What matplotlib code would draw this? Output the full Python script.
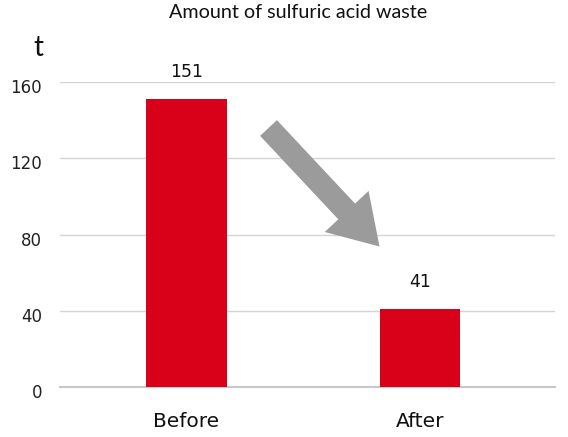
import matplotlib
matplotlib.use("Agg")
import matplotlib.pyplot as plt
from matplotlib.patches import FancyArrow
from matplotlib.transforms import ScaledTranslation

# data
categorias = ["Before", "After"]
valores = [151, 41]
ticks_y = [0, 40, 80, 120, 160]

TITULO = "Amount of sulfuric acid waste"
UNIDAD = "t"
ROJO = "#d9001a"
GRIS = "#9b9b9b"

plt.rcParams["font.family"] = ["DejaVu Sans"]

fig = plt.figure(figsize=(5.68, 4.37), dpi=100)
W, H = 568, 437
ax = fig.add_axes([60 / W, (H - 387) / H, 495 / W, 305 / H])

x = list(range(len(categorias)))
ax.bar(x, valores, width=0.345, color=ROJO, zorder=3)

for xi, v in zip(x, valores):
    ax.annotate(str(v), (xi, v), xytext=(0, 16), textcoords="offset points",
                ha="center", va="baseline", fontsize=12.5, color="#111111")

ax.set_xlim(-0.542, 1.578)
ax.set_ylim(0, 160)
ax.set_yticks(ticks_y)
ax.set_yticklabels([str(t) for t in ticks_y], fontsize=12, color="#222222")
ax.set_xticks(x)
ax.set_xticklabels(categorias, fontsize=14.5, color="#111111")
ax.tick_params(axis="both", length=0)
ax.tick_params(axis="y", pad=13)
ax.tick_params(axis="x", pad=18)

# bajar un poco las etiquetas del eje y
desplaza = ScaledTranslation(0, -4 / 100, fig.dpi_scale_trans)
for etiqueta in ax.get_yticklabels():
    etiqueta.set_transform(etiqueta.get_transform() + desplaza)

ax.grid(axis="y", color="#d4d4d4", lw=1, zorder=0)
for lado in ["top", "right", "left"]:
    ax.spines[lado].set_visible(False)
ax.spines["bottom"].set_color("#c8c8c8")
ax.spines["bottom"].set_linewidth(1.5)

fig.text(298 / W, 1 - 13 / H, TITULO, ha="center", va="center", fontsize=14.2,
         family="Lato", color="#111111")
fig.text(38 / W, 1 - 48 / H, UNIDAD, ha="center", va="center", fontsize=20,
         family="Lato", color="#111111")

# flecha decorativa
flecha = FancyArrow(2.685, 4.37 - 1.28, 1.11, -1.185, width=0.23, head_width=0.60,
                    head_length=0.48, length_includes_head=True, color=GRIS, lw=0,
                    transform=fig.dpi_scale_trans)
fig.add_artist(flecha)

fig.savefig("out.png", dpi=100)
